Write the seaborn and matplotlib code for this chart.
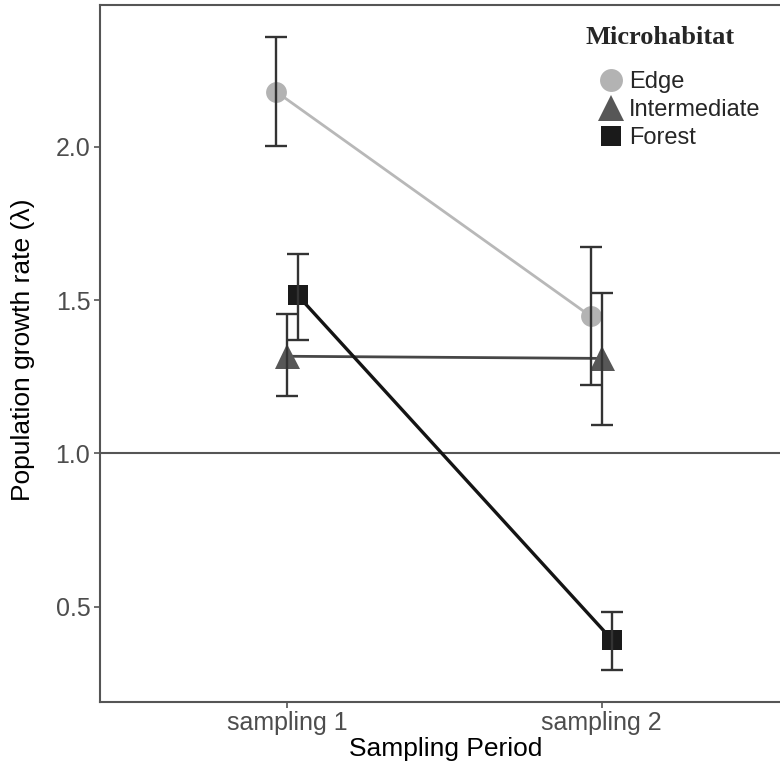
import matplotlib
matplotlib.use("Agg")
import matplotlib.pyplot as plt
from matplotlib.lines import Line2D
import seaborn as sns
import pandas as pd

# ---- data ----
periods = ["sampling 1", "sampling 2"]
habitats = ["Edge", "Intermediate", "Forest"]
edge_mean = [2.180, 1.447]
edge_lo = [2.004, 1.223]
edge_hi = [2.358, 1.673]
inter_mean = [1.317, 1.310]
inter_lo = [1.187, 1.093]
inter_hi = [1.454, 1.524]
forest_mean = [1.516, 0.391]
forest_lo = [1.370, 0.294]
forest_hi = [1.650, 0.484]
y_ticks = [0.5, 1.0, 1.5, 2.0]

means = {"Edge": edge_mean, "Intermediate": inter_mean, "Forest": forest_mean}
los = {"Edge": edge_lo, "Intermediate": inter_lo, "Forest": forest_lo}
his = {"Edge": edge_hi, "Intermediate": inter_hi, "Forest": forest_hi}

rows = []
for h in habitats:
    for i, p in enumerate(periods):
        rows.append({"period": p, "habitat": h, "lam": means[h][i],
                     "lo": los[h][i], "hi": his[h][i]})
df = pd.DataFrame(rows)

# ---- style ----
sns.set_style("white")
plt.rcParams["font.family"] = ["Liberation Sans", "DejaVu Sans"]

marker_cols = {"Edge": "#b3b3b3", "Intermediate": "#575757", "Forest": "#1a1a1a"}
line_cols = {"Edge": "#b8b8b8", "Intermediate": "#474747", "Forest": "#141414"}
markers = {"Edge": "o", "Intermediate": "^", "Forest": "s"}
msizes = {"Edge": 15.0, "Intermediate": 18.0, "Forest": 15.0}
leg_sizes = {"Edge": 16.5, "Intermediate": 18.5, "Forest": 14.5}

fig = plt.figure(figsize=(7.8, 7.71), dpi=100)
ax = fig.add_axes([100 / 780, (771 - 701.7) / 771, 690.4 / 780, 696.7 / 771])

sns.pointplot(data=df, x="period", y="lam", hue="habitat", order=periods,
              hue_order=habitats, palette=line_cols, markers=[markers[h] for h in habitats],
              linestyles=["-", "-", "-"], dodge=0.068, errorbar=None, legend=False,
              ax=ax, markersize=15, linewidth=2.0)

pt_lines = list(ax.lines)
for line, h in zip(pt_lines, habitats):
    line.set_markerfacecolor(marker_cols[h])
    line.set_markeredgecolor(marker_cols[h])
    line.set_markeredgewidth(0)
    line.set_markersize(msizes[h])
    line.set_zorder(3)
    sub = df[df["habitat"] == h].set_index("period").loc[periods]
    xs = line.get_xdata()
    ax.errorbar(xs, sub["lam"].values,
                yerr=[sub["lam"].values - sub["lo"].values, sub["hi"].values - sub["lam"].values],
                fmt="none", ecolor="#333333", elinewidth=1.7, capsize=8, capthick=1.7,
                zorder=4)
pt_lines[2].set_linewidth(2.4)

ax.axhline(1.0, color="#555555", lw=1.5, zorder=1)

ax.set_xlim(-0.594, 1.6)
ax.set_ylim(0.19, 2.463)
ax.set_yticks(y_ticks)
ax.set_yticklabels([f"{v:.1f}" for v in y_ticks])

for s in ["left", "bottom", "top", "right"]:
    ax.spines[s].set_color("#555555")
    ax.spines[s].set_linewidth(1.5)
ax.tick_params(axis="both", which="both", length=4, width=1.2, color="#555555",
               labelsize=18, labelcolor="#4d4d4d", left=True, bottom=True, pad=3)

ax.set_xlabel("Sampling Period", fontsize=19, color="black", labelpad=1)
ax.set_ylabel("Population growth rate (\u03bb)", fontsize=19, color="black")
ax.yaxis.set_label_coords(-0.094, 0.505)

handles = [Line2D([], [], linestyle="none", marker=markers[h], markersize=leg_sizes[h],
                  markerfacecolor=marker_cols[h], markeredgewidth=0) for h in habitats]
leg = ax.legend(handles, habitats, title="Microhabitat", loc="upper left",
                bbox_to_anchor=(585 / 780, 1 - 26 / 771), bbox_transform=fig.transFigure,
                frameon=False, fontsize=17, handlelength=2.2, handletextpad=-0.35,
                labelspacing=0.26, alignment="left", borderaxespad=0, borderpad=0.0,
                title_fontproperties={"family": ["Liberation Serif", "DejaVu Serif"],
                                      "weight": "bold", "size": 19})
leg._legend_box.sep = 16

fig.savefig("out.png", dpi=100, facecolor="white")
